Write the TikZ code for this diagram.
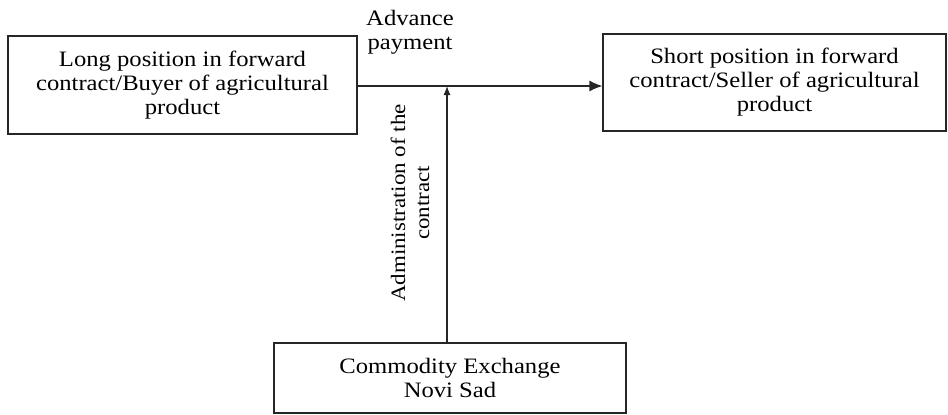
\documentclass[tikz,border=0pt]{standalone}
\usepackage{fontspec}
\setmainfont[FakeStretch=1.12]{Liberation Serif}
\usetikzlibrary{arrows.meta}
\tikzset{
  party/.style={draw=black!85, line width=1.2pt, align=center, inner sep=0pt},
  flow/.style={draw=black!85, line width=1.2pt, -{Latex[length=13pt,width=11pt]}},
  label text/.style={align=center, font=\fontsize{22}{24}\selectfont}
}

\begin{document}
\begin{tikzpicture}[x=1pt,y=1pt]
  \useasboundingbox (0,0) rectangle (948,-415);

  \node[party, label text, minimum width=349pt, minimum height=98pt] (long) at (182.5,-85)
    {Long position in forward\\contract/Buyer of agricultural\\product};
  \node[party, label text, minimum width=343pt, minimum height=97pt] (short) at (774.5,-82.5)
    {Short position in forward\\contract/Seller of agricultural\\product};
  \node[party, label text, minimum width=352pt, minimum height=70pt] (exch) at (450,-378)
    {Commodity Exchange\\Novi Sad};

  % meeting point of the two flows
  \coordinate (meet) at (447,-86);

  \draw[flow] (long.east |- meet) -- (short.west |- meet);
  \draw[flow, -{Latex[length=9pt,width=7pt]}] (exch.north -| meet) -- (meet);

  \node[label text] (pay) at (410,-32) {Advance\\payment};
  \node[label text, font=\fontsize{20.5}{24}\selectfont, rotate=90] (admin) at (410,-203)
    {Administration of the\\contract};

\end{tikzpicture}
\end{document}
